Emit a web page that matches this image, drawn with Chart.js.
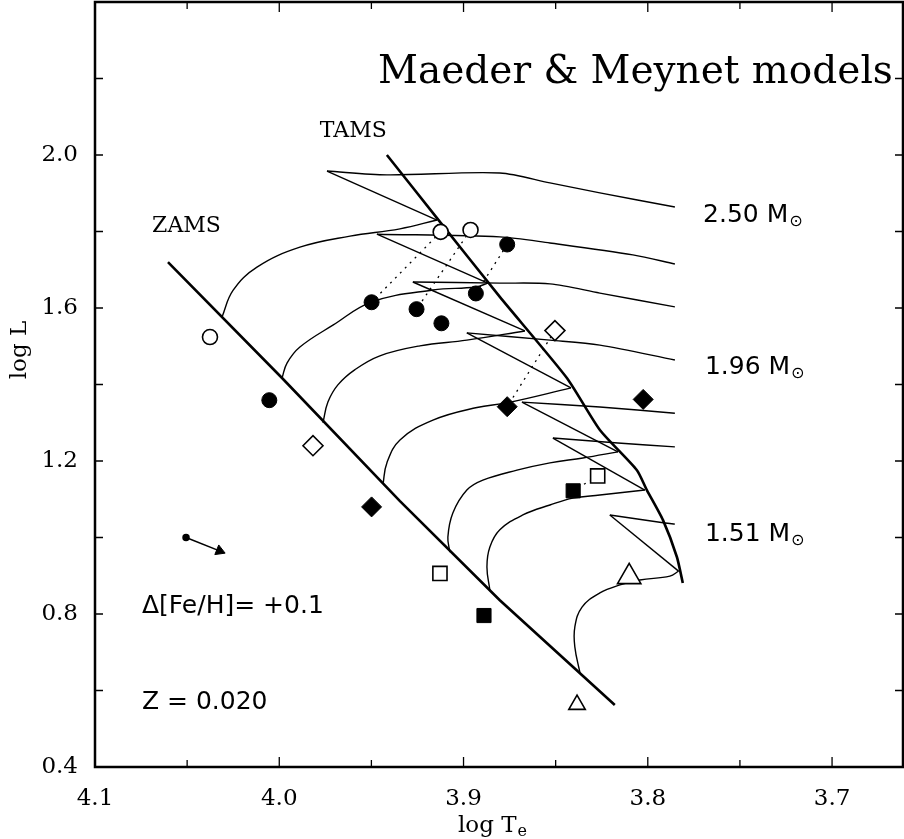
<!DOCTYPE html>
<html>
<head>
<meta charset="utf-8">
<script src="https://cdn.jsdelivr.net/npm/chart.js@4.4.1/dist/chart.umd.min.js"></script>
<style>
  html, body { margin: 0; padding: 0; background: #fff; }
  #wrap { width: 904px; height: 839px; }
</style>
</head>
<body>
<div id="wrap"><canvas id="myChart" width="904" height="839"></canvas></div>
<script>
// axis ticks (labelled and small ones)
var xTicks = [4.1, 4.0, 3.9, 3.8, 3.7];
var xMinor = [4.05, 3.95, 3.85, 3.75];
var yTicks = [0.4, 0.8, 1.2, 1.6, 2.0];
var yMinor = [0.6, 1.0, 1.4, 1.8, 2.2];

// ZAMS and TAMS
var zamsT = [4.0604, 3.9985, 3.9345, 3.8803, 3.8179];
var zamsL = [1.720, 1.417, 1.095, 0.836, 0.562];
var tamsT = [3.9416, 3.9144, 3.8803, 3.8439, 3.8260, 3.8059, 3.8005, 3.7918, 3.7842, 3.7810];
var tamsL = [2.000, 1.835, 1.629, 1.417, 1.281, 1.176, 1.124, 1.046, 0.949, 0.881];

// tracks, top (2.50) to bottom (1.51): main sequence up to the TAMS point, then hook tip and on to the right
var track1T = [4.0311, 4.0251, 4.0121, 3.9888, 3.9616, 3.9345, 3.9144, 3.9741, 3.9416, 3.8803, 3.8531, 3.8260, 3.7853];
var track1L = [1.576, 1.646, 1.707, 1.759, 1.788, 1.807, 1.830, 1.958, 1.948, 1.953, 1.927, 1.901, 1.864];
var track2T = [3.9985, 3.9958, 3.9888, 3.9709, 3.9497, 3.9166, 3.8933, 3.8868, 3.9470, 3.8803, 3.8531, 3.8081, 3.7853];
var track2L = [1.417, 1.456, 1.498, 1.555, 1.616, 1.647, 1.655, 1.665, 1.793, 1.786, 1.770, 1.739, 1.715];
var track3T = [3.9763, 3.9736, 3.9682, 3.9589, 3.9454, 3.9237, 3.8982, 3.8667, 3.9275, 3.8803, 3.8531, 3.8260, 3.7853];
var track3L = [1.300, 1.354, 1.399, 1.439, 1.475, 1.501, 1.516, 1.540, 1.668, 1.665, 1.663, 1.639, 1.603];
var track4T = [3.9437, 3.9416, 3.9345, 3.9166, 3.8927, 3.8765, 3.8417, 3.8982, 3.8531, 3.8260, 3.7853];
var track4L = [1.140, 1.195, 1.255, 1.307, 1.340, 1.352, 1.391, 1.535, 1.516, 1.503, 1.464];
var track5T = [3.9074, 3.9085, 3.9058, 3.8982, 3.8895, 3.8710, 3.8531, 3.8352, 3.8162, 3.8683, 3.8260, 3.7853];
var track5L = [0.962, 1.001, 1.064, 1.124, 1.150, 1.176, 1.195, 1.208, 1.224, 1.354, 1.341, 1.325];
var track6T = [3.8857, 3.8873, 3.8857, 3.8803, 3.8678, 3.8531, 3.8406, 3.8260, 3.8016, 3.8515, 3.8162, 3.7853];
var track6L = [0.862, 0.923, 0.975, 1.020, 1.059, 1.085, 1.103, 1.111, 1.124, 1.260, 1.247, 1.237];
var track7T = [3.8368, 3.8396, 3.8396, 3.8357, 3.8260, 3.8151, 3.8043, 3.7880, 3.7833, 3.8206, 3.7907, 3.7853];
var track7L = [0.646, 0.714, 0.766, 0.818, 0.855, 0.876, 0.889, 0.899, 0.912, 1.059, 1.038, 1.035];
// index of the TAMS point in each track
var tracks = [[track1T, track1L, 6], [track2T, track2L, 7], [track3T, track3L, 7], [track4T, track4L, 6],
              [track5T, track5L, 8], [track6T, track6L, 8], [track7T, track7L, 8]];

// stars
var openCircT = [4.0376, 3.9124, 3.8962];
var openCircL = [1.524, 1.799, 1.804];
var fillCircT = [4.0054, 3.9499, 3.9255, 3.9120, 3.8933, 3.8763];
var fillCircL = [1.359, 1.615, 1.597, 1.560, 1.638, 1.766];
var openDiaT = [3.9817, 3.8504];
var openDiaL = [1.240, 1.541];
var fillDiaT = [3.9499, 3.8763, 3.8025];
var fillDiaL = [1.080, 1.342, 1.361];
var openSqT = [3.9128, 3.8272];
var openSqL = [0.906, 1.161];
var fillSqT = [3.8889, 3.8405];
var fillSqL = [0.796, 1.122];
var triT = [3.8101, 3.8384];
var triL = [0.897, 0.563];

// metallicity shift arrow
var arrowT = [4.0506, 4.0304];
var arrowL = [1.000, 0.961];

function pts(T, L) {
    return T.map(function (t, i) { return {x: t, y: L[i]}; });
}
function line(data, width, tension, dash) {
    return {type: 'line', data: data, borderColor: '#000', borderWidth: width, tension: tension,
            borderDash: dash || [], pointRadius: 0, fill: false};
}
function marks(T, L, style, radius, filled) {
    return {type: 'scatter', data: pts(T, L), pointStyle: style, pointRadius: radius, pointHoverRadius: radius,
            backgroundColor: filled ? '#000' : '#fff', borderColor: '#000', borderWidth: filled ? 1 : 1.6};
}

var datasets = [
    marks(openCircT, openCircL, 'circle', 7.5, false),
    marks(fillCircT, fillCircL, 'circle', 7.5, true),
    marks(openDiaT, openDiaL, 'rectRot', 10, false),
    marks(fillDiaT, fillDiaL, 'rectRot', 10, true),
    marks(openSqT, openSqL, 'rect', 10, false),
    marks(fillSqT, fillSqL, 'rect', 10, true),
    marks(triT, triL, 'triangle', [13.5, 9.5], false)
];

// arrow: small dot, line and head
var arrowDs = line(pts(arrowT, arrowL), 1.5, 0);
arrowDs.pointRadius = [3, 0];
arrowDs.pointBackgroundColor = '#000';
datasets.push(arrowDs);
datasets.push({type: 'scatter', data: [{x: arrowT[1] + 0.002, y: arrowL[1] + 0.004}], pointStyle: 'triangle',
               rotation: 112, pointRadius: 6, backgroundColor: '#000', borderColor: '#000', borderWidth: 1});

// dotted connections between the two positions of the same star
var pairs = [
    [openCircT[1], openCircL[1], fillCircT[1], fillCircL[1]],
    [openCircT[2], openCircL[2], fillCircT[2], fillCircL[2]],
    [fillCircT[5], fillCircL[5], fillCircT[4], fillCircL[4]],
    [openDiaT[1], openDiaL[1], fillDiaT[1], fillDiaL[1]],
    [openSqT[1], openSqL[1], fillSqT[1], fillSqL[1]]
];
pairs.forEach(function (p) {
    datasets.push(line([{x: p[0], y: p[1]}, {x: p[2], y: p[3]}], 1.3, 0, [2, 5]));
});

datasets.push(line(pts(zamsT, zamsL), 2.6, 0));
datasets.push(line(pts(tamsT, tamsL), 2.6, 0.2));

tracks.forEach(function (tr) {
    var all = pts(tr[0], tr[1]), k = tr[2];
    datasets.push(line(all.slice(0, k + 1), 1.4, 0.4));
    datasets.push(line(all.slice(k, k + 2), 1.4, 0));
    datasets.push(line(all.slice(k + 1), 1.4, 0.3));
});

var serif = '"DejaVu Serif", serif';
var sans = '"DejaVu Sans", sans-serif';

var frameAndText = {
    id: 'frameAndText',
    afterDraw: function (chart) {
        var ctx = chart.ctx, a = chart.chartArea;
        var xs = chart.scales.x, ys = chart.scales.y;
        ctx.save();
        ctx.strokeStyle = '#000';
        ctx.fillStyle = '#000';
        ctx.lineWidth = 2.5;
        ctx.strokeRect(a.left, a.top, a.right - a.left, a.bottom - a.top);

        // tick marks pointing inwards on all sides
        ctx.lineWidth = 1.3;
        ctx.beginPath();
        xTicks.concat(xMinor).forEach(function (v, i) {
            var px = xs.getPixelForValue(v), len = i < xTicks.length ? 10 : 7;
            ctx.moveTo(px, a.bottom); ctx.lineTo(px, a.bottom - len);
            ctx.moveTo(px, a.top); ctx.lineTo(px, a.top + len);
        });
        yTicks.concat(yMinor).forEach(function (v) {
            var py = ys.getPixelForValue(v);
            ctx.moveTo(a.left, py); ctx.lineTo(a.left + 8, py);
            ctx.moveTo(a.right, py); ctx.lineTo(a.right - 8, py);
        });
        ctx.stroke();

        function X(v) { return xs.getPixelForValue(v); }
        function Y(v) { return ys.getPixelForValue(v); }

        ctx.textBaseline = 'alphabetic';
        ctx.textAlign = 'right';
        ctx.font = '39px ' + serif;
        ctx.fillText('Maeder & Meynet models', X(3.667), Y(2.188));

        ctx.textAlign = 'left';
        ctx.font = '22px ' + serif;
        ctx.fillText('TAMS', X(3.978), Y(2.047));
        ctx.fillText('ZAMS', X(4.069), Y(1.799));

        function mass(txt, t, l) {
            ctx.font = '25px ' + sans;
            ctx.fillText(txt + ' M', X(t), Y(l));
            var w = ctx.measureText(txt + ' M').width;
            ctx.font = '16px ' + sans;
            ctx.fillText('\u2299', X(t) + w + 1, Y(l) + 4);
        }
        mass('2.50', 3.770, 1.825);
        mass('1.96', 3.769, 1.427);
        mass('1.51', 3.769, 0.991);

        ctx.font = '25px ' + sans;
        ctx.fillText('\u0394[Fe/H]= +0.1', X(4.0745), Y(0.803));
        ctx.fillText('Z = 0.020', X(4.0745), Y(0.552));

        // axis titles
        ctx.font = '23px ' + serif;
        var w1 = ctx.measureText('log T').width;
        ctx.font = '16px ' + serif;
        var w2 = ctx.measureText('e').width;
        var cx = (a.left + a.right) / 2 - 7 - (w1 + w2) / 2;
        ctx.font = '23px ' + serif;
        ctx.fillText('log T', cx, 832);
        ctx.font = '16px ' + serif;
        ctx.fillText('e', cx + w1 + 1, 836);

        ctx.translate(26, 350);
        ctx.rotate(-Math.PI / 2);
        ctx.textAlign = 'center';
        ctx.font = '23px ' + serif;
        ctx.fillText('log L', 0, 0);
        ctx.restore();
    }
};

var ctx = document.getElementById('myChart').getContext('2d');
var chart = new Chart(ctx, {
    data: {datasets: datasets},
    options: {
        responsive: false,
        devicePixelRatio: 1,
        animation: false,
        layout: {autoPadding: false, padding: {top: 2, right: 1, left: 0, bottom: 0}},
        plugins: {legend: {display: false}, tooltip: {enabled: false}},
        scales: {
            x: {
                type: 'linear', reverse: true, min: 3.6615, max: 4.1,
                afterBuildTicks: function (s) { s.ticks = xTicks.map(function (v) { return {value: v}; }); },
                afterFit: function (s) { s.height = 72; s.paddingLeft = 0; s.paddingRight = 0; },
                grid: {display: false, drawTicks: false},
                border: {display: false},
                ticks: {color: '#000', padding: 18, maxRotation: 0, autoSkip: false,
                        font: {family: serif, size: 23},
                        callback: function (v) { return Number(v).toFixed(1); }}
            },
            y: {
                type: 'linear', min: 0.4, max: 2.4,
                afterBuildTicks: function (s) { s.ticks = yTicks.map(function (v) { return {value: v}; }); },
                afterFit: function (s) { s.width = 95; s.paddingTop = 0; s.paddingBottom = 0; },
                grid: {display: false, drawTicks: false},
                border: {display: false},
                ticks: {color: '#000', padding: 17, autoSkip: false,
                        font: {family: serif, size: 23},
                        callback: function (v) { return Number(v).toFixed(1); }}
            }
        }
    },
    plugins: [frameAndText]
});
</script>
</body>
</html>
